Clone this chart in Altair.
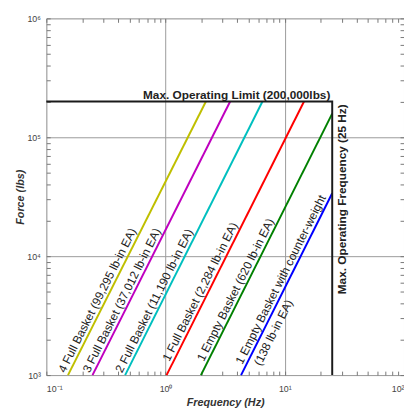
import math
import altair as alt
import pandas as pd

# ---- data ----
series_names = ["4 Full Basket", "3 Full Basket", "2 Full Basket",
                "1 Full Basket", "1 Empty Basket", "1 Empty Basket cw"]
line_labels = ["4 Full Basket (99,295 lb-in EA)",
               "3 Full Basket (37,012 lb-in EA)",
               "2 Full Basket (11,190 lb-in EA)",
               "1 Full Basket (2,284 lb-in EA)",
               "1 Empty Basket (620 lb-in EA)",
               "1 Empty Basket with counter-weight"]
second_line_label = "(138 lb-in EA)"
freq_start = [0.152, 0.244, 0.458, 1.02, 1.98, 4.30]      # Hz at 1,000 lbs
force_start = [1000, 1000, 1000, 1000, 1000, 1000]
freq_end = [2.18, 3.48, 6.5, 14.5, 25.0, 25.0]           # Hz
force_end = [200000, 200000, 200000, 200000, 158000, 33800]
colors = ["#bfbf00", "#bf00bf", "#00bfbf", "#ff0000", "#008000", "#0000ff"]
label_force = [1000, 1000, 1000, 1250, 1250, 1180]       # where each label starts

limit_path_freq = [0.1, 25, 25]
limit_path_force = [200000, 200000, 1000]
limit_text = "Max. Operating Limit (200,000lbs)"
limit_text_freq = 3.95
limit_text_force = 200000
freq_text = "Max. Operating Frequency (25 Hz)"
freq_text_freq = 25
freq_text_force = 30100

x_major = [0.1, 1, 10, 100]
x_tick_labels = ["10⁻¹", "10⁰", "10¹", "10²"]
y_major = [1000, 10000, 100000, 1000000]
y_tick_labels = ["10³", "10⁴", "10⁵", "10⁶"]

# ---- tables ----
rows = []
for i, s in enumerate(series_names):
    rows.append({"series": s, "pt": 0, "f": freq_start[i], "F": force_start[i]})
    rows.append({"series": s, "pt": 1, "f": freq_end[i], "F": force_end[i]})
lines_df = pd.DataFrame(rows)


def on_line(i, F):
    t = math.log(F / force_start[i]) / math.log(force_end[i] / force_start[i])
    lf = math.log10(freq_start[i]) + t * (math.log10(freq_end[i]) - math.log10(freq_start[i]))
    return 10 ** lf


labels_df = pd.DataFrame({
    "text": line_labels,
    "f": [on_line(i, label_force[i]) for i in range(6)],
    "F": label_force,
})
label2_df = pd.DataFrame({"text": [second_line_label],
                          "f": [on_line(5, label_force[5])],
                          "F": [label_force[5]]})
limit_df = pd.DataFrame({"f": limit_path_freq, "F": limit_path_force,
                         "pt": list(range(len(limit_path_freq)))})
limit_text_df = pd.DataFrame({"text": [limit_text], "f": [limit_text_freq], "F": [limit_text_force]})
freq_text_df = pd.DataFrame({"text": [freq_text], "f": [freq_text_freq], "F": [freq_text_force]})

minor_x = [m * d for d in [0.1, 1, 10] for m in range(1, 10)] + [100]
minor_y = [m * d for d in [1000, 10000, 100000] for m in range(1, 10)] + [1000000]


def label_expr(vals, labs):
    expr = "'" + labs[-1] + "'"
    for v, l in reversed(list(zip(vals[:-1], labs[:-1]))):
        expr = f"datum.value < {v * 3} ? '{l}' : " + expr
    return expr


W, H = 364, 363
FONT = "Liberation Sans"
x_scale = alt.Scale(type="log", domain=[0.1, 100])
y_scale = alt.Scale(type="log", domain=[1000, 1000000])

main_x_axis = alt.Axis(values=x_major, labelExpr=label_expr(x_major, x_tick_labels),
                       grid=True, gridColor="#9a9a9a", gridWidth=1, ticks=False, domain=False,
                       title="Frequency (Hz)", labelFont=FONT, labelFontSize=9, labelColor="#444",
                       labelPadding=10, titleFont=FONT, titleFontSize=11, titleFontStyle="italic",
                       titleFontWeight="bold", titleColor="#333", titlePadding=3)
main_y_axis = alt.Axis(values=y_major, labelExpr=label_expr(y_major, y_tick_labels),
                       grid=True, gridColor="#9a9a9a", gridWidth=1, ticks=False, domain=False,
                       title="Force (lbs)", labelFont=FONT, labelFontSize=9, labelColor="#444",
                       labelPadding=6, titleFont=FONT, titleFontSize=11, titleFontStyle="italic",
                       titleFontWeight="bold", titleColor="#333", titlePadding=1)

lines = alt.Chart(lines_df).mark_line(strokeWidth=2).encode(
    x=alt.X("f:Q", scale=x_scale, axis=main_x_axis),
    y=alt.Y("F:Q", scale=y_scale, axis=main_y_axis),
    color=alt.Color("series:N", scale=alt.Scale(domain=series_names, range=colors), legend=None),
    order=alt.Order("pt:Q"),
)


def tick_layer(xorient, yorient):
    ax = alt.Axis(orient=xorient, offset=-H, values=minor_x, labels=False, grid=False,
                  domain=False, ticks=True, tickSize=4, tickColor="#777", tickWidth=1, title=None)
    ay = alt.Axis(orient=yorient, offset=-W, values=minor_y, labels=False, grid=False,
                  domain=False, ticks=True, tickSize=4, tickColor="#777", tickWidth=1, title=None)
    return alt.Chart(lines_df).mark_point(opacity=0).encode(
        x=alt.X("f:Q", scale=x_scale, axis=ax),
        y=alt.Y("F:Q", scale=y_scale, axis=ay),
    )


ticks_a = tick_layer("top", "right")
ticks_b = tick_layer("bottom", "left")

limit = alt.Chart(limit_df).mark_line(strokeWidth=2, color="#1a1a1a").encode(
    x=alt.X("f:Q", scale=x_scale, axis=None),
    y=alt.Y("F:Q", scale=y_scale, axis=None),
    order=alt.Order("pt:Q"),
)

ANG = 296.6
labels = alt.Chart(labels_df).mark_text(angle=ANG, align="left", baseline="bottom",
                                        font=FONT, fontSize=12, color="#222", dy=-0.5).encode(
    x=alt.X("f:Q", scale=x_scale, axis=None),
    y=alt.Y("F:Q", scale=y_scale, axis=None),
    text="text:N",
)
label2 = alt.Chart(label2_df).mark_text(angle=ANG, align="left", baseline="top",
                                        font=FONT, fontSize=12, color="#222", dx=7, dy=5).encode(
    x=alt.X("f:Q", scale=x_scale, axis=None),
    y=alt.Y("F:Q", scale=y_scale, axis=None),
    text="text:N",
)
limit_label = alt.Chart(limit_text_df).mark_text(align="center", baseline="bottom", font=FONT,
                                                 fontSize=12, fontWeight="bold", color="#222",
                                                 dy=0).encode(
    x=alt.X("f:Q", scale=x_scale, axis=None),
    y=alt.Y("F:Q", scale=y_scale, axis=None),
    text="text:N",
)
freq_label = alt.Chart(freq_text_df).mark_text(angle=270, align="center", baseline="top", font=FONT,
                                               fontSize=12, fontWeight="bold", color="#222",
                                               dy=5).encode(
    x=alt.X("f:Q", scale=x_scale, axis=None),
    y=alt.Y("F:Q", scale=y_scale, axis=None),
    text="text:N",
)

chart = alt.layer(lines, ticks_a, ticks_b, limit, labels, label2, limit_label, freq_label).resolve_axis(
    x="independent", y="independent"
).properties(
    width=W, height=H,
    autosize=alt.AutoSizeParams(type="none"),
    padding={"left": 39, "top": 7, "right": 0, "bottom": 33},
).configure_view(stroke="#8a8a8a", strokeWidth=1).configure(background="white")

chart.save("out.html", embed_options={"renderer": "svg", "actions": False})
